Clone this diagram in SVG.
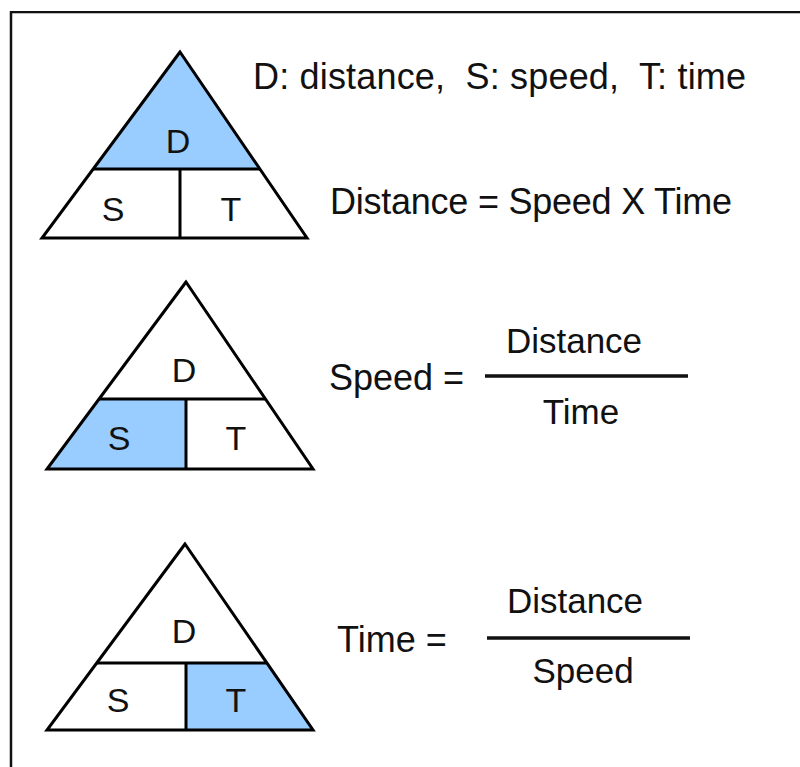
<svg xmlns="http://www.w3.org/2000/svg" width="800" height="767" viewBox="0 0 800 767">
<style>
.ln{fill:none;stroke:#000;stroke-width:3;stroke-linejoin:miter}
.hl{fill:#99ccff;stroke:none}
.lt{font-family:"Liberation Sans",Arial,sans-serif;font-size:34px;fill:#111;text-anchor:middle}
.tx{font-family:"Liberation Sans",Arial,sans-serif;font-size:36px;fill:#111;white-space:pre}
.fr{font-family:"Liberation Sans",Arial,sans-serif;font-size:35px;fill:#111;text-anchor:middle}
</style>
<rect width="800" height="767" fill="#fff"/>
<g id="frame">
<line x1="11" y1="13" x2="800" y2="13" stroke="#bbb" stroke-width="2"/>
<line x1="11" y1="12" x2="800" y2="12" stroke="#111" stroke-width="2"/>
<line x1="11" y1="11" x2="11" y2="767" stroke="#111" stroke-width="2.5"/>
</g>
<g id="tri-distance">
<polygon class="hl" points="180,52 93.2,169 259.9,169"/>
<polygon class="ln" points="180,52 42,238 307,238"/>
<line class="ln" x1="93.2" y1="169" x2="259.9" y2="169"/>
<line class="ln" x1="180" y1="169" x2="180" y2="238"/>
<text class="lt" x="178" y="153">D</text>
<text class="lt" x="113" y="221">S</text>
<text class="lt" x="231" y="221">T</text>
</g>
<g id="tri-speed">
<polygon class="hl" points="99,399 186,399 186,469 47,469"/>
<polygon class="ln" points="186,282 47,469 313,469"/>
<line class="ln" x1="99" y1="399" x2="265.5" y2="399"/>
<line class="ln" x1="186" y1="399" x2="186" y2="469"/>
<text class="lt" x="184" y="382">D</text>
<text class="lt" x="119" y="450">S</text>
<text class="lt" x="236" y="450">T</text>
</g>
<g id="tri-time">
<polygon class="hl" points="186,663 266.9,663 313,730 186,730"/>
<polygon class="ln" points="185,544 47,730 313,730"/>
<line class="ln" x1="96.7" y1="663" x2="266.9" y2="663"/>
<line class="ln" x1="186" y1="663" x2="186" y2="730"/>
<text class="lt" x="184" y="643">D</text>
<text class="lt" x="118" y="712">S</text>
<text class="lt" x="236" y="712">T</text>
</g>
<g id="legend">
<text class="tx" x="253" y="89" textLength="493">D: distance,  S: speed,  T: time</text>
</g>
<g id="eq-distance">
<text class="tx" x="330" y="214" textLength="402">Distance = Speed X Time</text>
</g>
<g id="eq-speed">
<text class="tx" x="329" y="390" font-size="35">Speed =</text>
<line x1="485" y1="376" x2="688" y2="376" stroke="#111" stroke-width="3.5"/>
<text class="fr" x="574" y="353">Distance</text>
<text class="fr" x="581" y="424">Time</text>
</g>
<g id="eq-time">
<text class="tx" x="337" y="652" font-size="35">Time =</text>
<line x1="487" y1="638" x2="690" y2="638" stroke="#111" stroke-width="3.5"/>
<text class="fr" x="575" y="613">Distance</text>
<text class="fr" x="583" y="683">Speed</text>
</g>
</svg>
